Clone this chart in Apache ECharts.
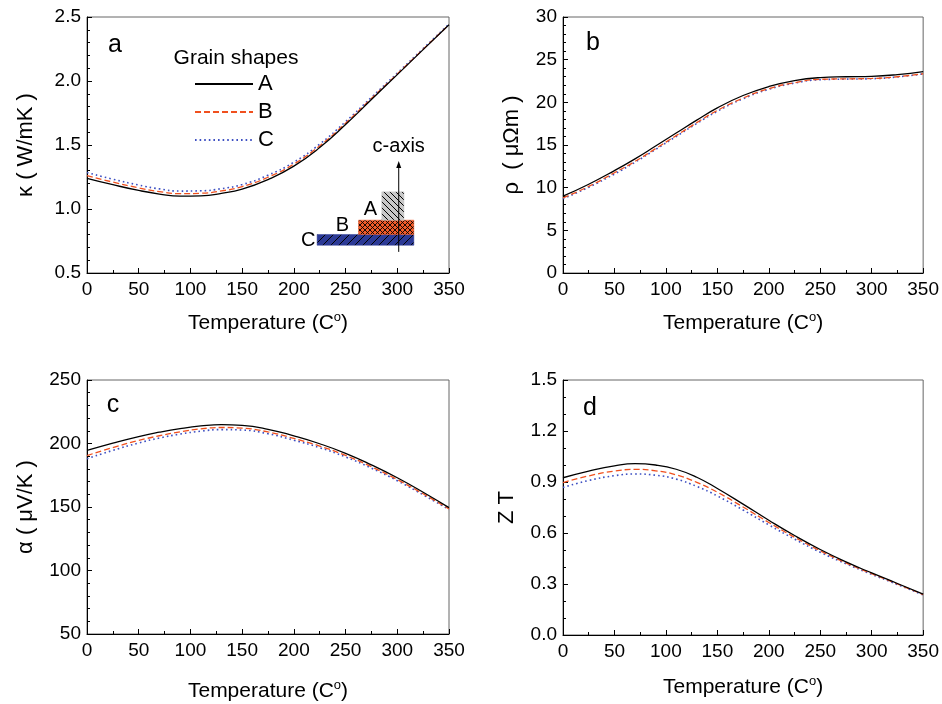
<!DOCTYPE html>
<html>
<head>
<meta charset="utf-8">
<script src="https://cdn.jsdelivr.net/npm/echarts@6/dist/echarts.min.js"></script>
<style>
html,body{margin:0;padding:0;background:#fff;}
#chart{width:942px;height:704px;}
</style>
</head>
<body>
<div id="chart"></div>
<script>
// Temperature (°C)
var temps = [0, 25, 50, 70, 90, 110, 130, 150, 175, 200, 225, 250, 275, 300, 325, 350];
var seriesNames = ['A', 'B', 'C'];
var xTickLabels = ['0', '50', '100', '150', '200', '250', '300', '350'];

// (a) thermal conductivity kappa (W/mK)
var kappaA = [1.24, 1.19, 1.145, 1.117, 1.10, 1.103, 1.122, 1.155, 1.23, 1.335, 1.48, 1.66, 1.855, 2.05, 2.245, 2.44];
var kappaB = [1.26, 1.21, 1.165, 1.136, 1.12, 1.123, 1.141, 1.175, 1.248, 1.351, 1.493, 1.67, 1.863, 2.055, 2.248, 2.44];
var kappaC = [1.285, 1.233, 1.187, 1.157, 1.14, 1.142, 1.159, 1.191, 1.264, 1.366, 1.507, 1.682, 1.872, 2.062, 2.253, 2.445];

// (b) resistivity rho (μΩm)
var rhoA = [9.0, 10.4, 12.0, 13.38, 14.88, 16.4, 17.92, 19.35, 20.8, 21.85, 22.55, 22.9, 23.0, 23.05, 23.25, 23.6];
var rhoB = [8.8, 10.15, 11.75, 13.08, 14.58, 16.1, 17.62, 19.05, 20.5, 21.6, 22.3, 22.7, 22.75, 22.8, 23.0, 23.35];
var rhoC = [8.7, 10.05, 11.6, 12.98, 14.48, 16.0, 17.52, 18.95, 20.42, 21.52, 22.25, 22.65, 22.72, 22.77, 22.98, 23.33];

// (c) Seebeck coefficient alpha (μV/K)
var alphaA = [194.5, 200.3, 205.5, 208.9, 211.7, 213.8, 214.9, 214.3, 211.2, 206.0, 199.8, 192.3, 183.2, 173.0, 161.6, 149.5];
var alphaB = [190.5, 196.8, 202.4, 206.1, 209.2, 211.5, 212.6, 212.1, 209.1, 204.0, 198.0, 190.6, 181.7, 171.6, 160.4, 148.5];
var alphaC = [188.0, 194.6, 200.4, 204.3, 207.4, 209.7, 210.95, 210.6, 207.7, 202.6, 196.7, 189.4, 180.6, 170.7, 159.6, 148.0];

// (d) figure of merit ZT
var ztA = [0.925, 0.964, 0.995, 1.008, 1.0, 0.975, 0.928, 0.862, 0.77, 0.675, 0.585, 0.503, 0.43, 0.365, 0.303, 0.24];
var ztB = [0.897, 0.936, 0.964, 0.974, 0.966, 0.942, 0.898, 0.84, 0.753, 0.662, 0.575, 0.495, 0.424, 0.361, 0.3, 0.238];
var ztC = [0.868, 0.909, 0.937, 0.947, 0.94, 0.917, 0.874, 0.818, 0.735, 0.648, 0.564, 0.487, 0.419, 0.357, 0.297, 0.236];

var FONT = "'Liberation Sans', Arial, Helvetica, sans-serif";
var COLORS = ['#000000', '#f0501e', '#3d4fc2'];
var LINE_TYPES = ['solid', [6, 3], [1.6, 3]];
var LINE_WIDTHS = [1.3, 1.3, 1.6];

var grids = [
  {left: 87, top: 17, width: 362, height: 256},
  {left: 563, top: 17, width: 362, height: 256},
  {left: 87, top: 380, width: 362, height: 255},
  {left: 563, top: 380, width: 362, height: 255}
];
grids.forEach(function (g) { g.show = true; g.borderColor = '#666'; g.borderWidth = 1; g.backgroundColor = 'transparent'; });

function tickStyle(minorSplit) {
  return {
    axisLine: {show: true, onZero: false, lineStyle: {color: '#000', width: 1}},
    axisTick: {show: true, inside: true, length: 5, lineStyle: {color: '#000', width: 1}},
    minorTick: {show: true, splitNumber: minorSplit, length: 3, lineStyle: {color: '#000', width: 1}},
    splitLine: {show: false},
    minorSplitLine: {show: false}
  };
}

var xNameGaps = [38, 38, 45, 40];
var xAxes = [0, 1, 2, 3].map(function (i) {
  return Object.assign({
    type: 'value', gridIndex: i, min: 0, max: 350, interval: 50,
    name: 'Temperature (C{s|o})', nameLocation: 'middle', nameGap: xNameGaps[i],
    nameTextStyle: {fontFamily: FONT, fontSize: 21, color: '#000', verticalAlign: 'top', lineHeight: 24,
      rich: {s: {fontFamily: FONT, fontSize: 13, color: '#000', verticalAlign: 'top', lineHeight: 13, padding: [0, 0, 11, 0]}}},
    axisLabel: {fontFamily: FONT, fontSize: 19, color: '#000', margin: 7,
      formatter: function (v) { var k = xTickLabels.indexOf(String(v)); return k >= 0 ? xTickLabels[k] : ''; }}
  }, tickStyle(2));
});

var yDefs = [
  {min: 0.5, max: 2.5, interval: 0.5, split: 5, name: 'κ ( W/mK )', gap: 50, fmt: function (v) { return v.toFixed(1); }},
  {min: 0, max: 30, interval: 5, split: 5, name: 'ρ  ( μΩm )', gap: 40, fmt: function (v) { return String(v); }},
  {min: 50, max: 250, interval: 50, split: 5, name: 'α ( μV/K )', gap: 50, fmt: function (v) { return String(v); }},
  {min: 0, max: 1.5, interval: 0.3, split: 3, name: 'Z T', gap: 45, fmt: function (v) { return v.toFixed(1); }}
];
var yAxes = yDefs.map(function (d, i) {
  return Object.assign({
    type: 'value', gridIndex: i, min: d.min, max: d.max, interval: d.interval,
    name: d.name, nameLocation: 'middle', nameGap: d.gap, nameRotate: 90,
    nameTextStyle: {fontFamily: FONT, fontSize: 22, color: '#000'},
    axisLabel: {fontFamily: FONT, fontSize: 19, color: '#000', margin: 6, formatter: d.fmt}
  }, tickStyle(d.split));
});

var panelData = [
  [kappaA, kappaB, kappaC],
  [rhoA, rhoB, rhoC],
  [alphaA, alphaB, alphaC],
  [ztA, ztB, ztC]
];
var series = [];
panelData.forEach(function (arrs, p) {
  arrs.forEach(function (arr, s) {
    series.push({
      type: 'line', name: seriesNames[s], xAxisIndex: p, yAxisIndex: p,
      data: temps.map(function (t, i) { return [t, arr[i]]; }),
      smooth: 0.5, symbol: 'none', showSymbol: false, silent: true, animation: false,
      z: 3 - s,
      lineStyle: {color: COLORS[s], width: LINE_WIDTHS[s], type: LINE_TYPES[s]},
      itemStyle: {color: COLORS[s]}
    });
  });
});

var chart = echarts.init(document.getElementById('chart'), null, {renderer: 'canvas'});
chart.setOption({
  backgroundColor: '#fff',
  animation: false,
  grid: grids,
  xAxis: xAxes,
  yAxis: yAxes,
  legend: {
    data: seriesNames, orient: 'vertical', left: 194, top: 73, padding: 0,
    itemWidth: 58, itemHeight: 12, itemGap: 6, selectedMode: false,
    itemStyle: {opacity: 0},
    textStyle: {fontFamily: FONT, fontSize: 22, color: '#000'}
  },
  series: series
});

// ---- decorations: panel letters, legend title, inset schematic ----
function makePattern(size, bg, dirs, lw) {
  var c = document.createElement('canvas');
  c.width = size; c.height = size;
  var ctx = c.getContext('2d');
  ctx.fillStyle = bg; ctx.fillRect(0, 0, size, size);
  ctx.strokeStyle = '#000'; ctx.lineWidth = lw;
  dirs.forEach(function (d) {
    for (var k = -size; k <= size; k += size) {
      ctx.beginPath();
      if (d === '\\') { ctx.moveTo(k, 0); ctx.lineTo(k + size, size); }
      else { ctx.moveTo(k + size, 0); ctx.lineTo(k, size); }
      ctx.stroke();
    }
  });
  return {image: c, repeat: 'repeat'};
}
var patGray = makePattern(6, '#c8c8c8', ['\\'], 1);
var patOrange = makePattern(5, '#f05a28', ['\\', '/'], 0.9);
var patBlue = makePattern(8, '#2c3a96', ['/'], 1);

function px(x, y) { return chart.convertToPixel({gridIndex: 0}, [x, y]); }
function rectIn(x0, y0, x1, y1) {
  var p0 = px(x0, y1), p1 = px(x1, y0);
  return {x: p0[0], y: p0[1], width: p1[0] - p0[0], height: p1[1] - p0[1]};
}
var rA = rectIn(285, 0.913, 306.5, 1.134);
var rB = rectIn(262.5, 0.801, 316, 0.913);
var rC = rectIn(222.5, 0.717, 316, 0.801);
var arrBot = px(301.4, 0.665), arrTop = px(301.4, 1.375);
var labA = px(274, 1.0), labB = px(247, 0.873), labC = px(214, 0.756), labAxis = px(301.4, 1.49);

function txt(x, y, s, size, align) {
  return {type: 'text', x: x, y: y, z: 10, silent: true,
    style: {text: s, fontFamily: FONT, fontSize: size, fill: '#000', align: align || 'center', verticalAlign: 'middle'}};
}

chart.setOption({
  graphic: [
    txt(115, 45, 'a', 25), txt(593, 43, 'b', 25), txt(113, 405, 'c', 25), txt(590, 408, 'd', 25),
    txt(236, 58, 'Grain shapes', 21),
    {type: 'rect', shape: rC, z: 5, silent: true, style: {fill: patBlue, stroke: '#2c3a96', lineWidth: 0.5}},
    {type: 'rect', shape: rB, z: 5, silent: true, style: {fill: patOrange, stroke: '#f05a28', lineWidth: 0.5}},
    {type: 'rect', shape: rA, z: 5, silent: true, style: {fill: patGray, stroke: '#c8c8c8', lineWidth: 0.5}},
    {type: 'line', z: 6, silent: true, shape: {x1: arrBot[0], y1: arrBot[1], x2: arrTop[0], y2: arrTop[1] + 4}, style: {stroke: '#000', lineWidth: 1}},
    {type: 'polygon', z: 6, silent: true, shape: {points: [[arrTop[0], arrTop[1]], [arrTop[0] - 2.5, arrTop[1] + 7], [arrTop[0] + 2.5, arrTop[1] + 7]]}, style: {fill: '#000'}},
    txt(labA[0], labA[1], 'A', 20), txt(labB[0], labB[1], 'B', 20), txt(labC[0], labC[1], 'C', 20),
    txt(labAxis[0], labAxis[1], 'c-axis', 20)
  ]
});
</script>
</body>
</html>
